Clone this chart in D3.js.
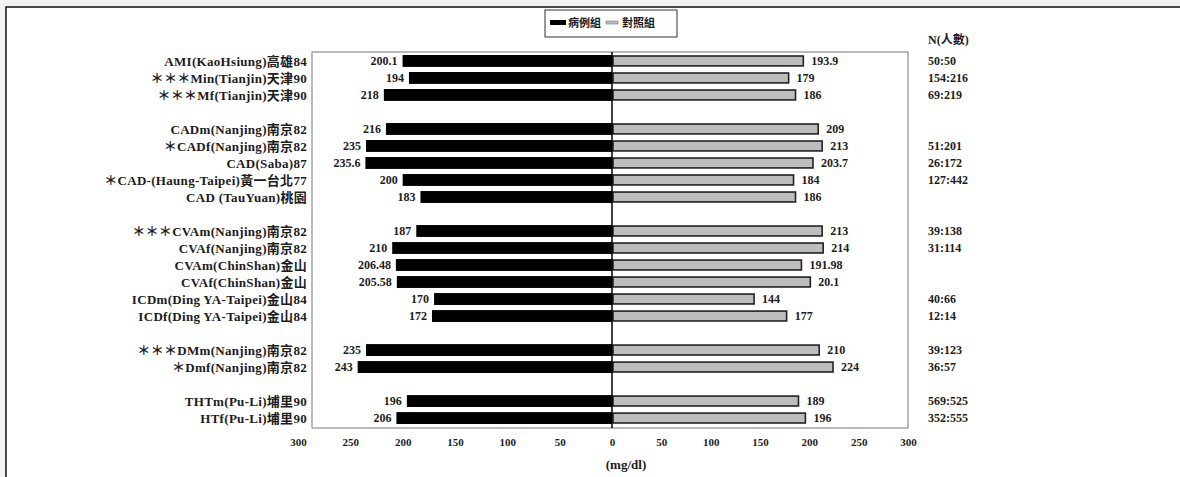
<!DOCTYPE html>
<html>
<head>
<meta charset="utf-8">
<script src="https://cdn.jsdelivr.net/npm/d3@7"></script>
<style>
  body { margin: 0; background: #f3f3f3; }
  text { font-family: "Liberation Serif", "Noto Sans CJK TC", serif; }
</style>
</head>
<body>
<div id="chart"></div>
<script>
const categories = [
  "AMI(KaoHsiung)高雄84",
  "＊＊＊Min(Tianjin)天津90",
  "＊＊＊Mf(Tianjin)天津90",
  "CADm(Nanjing)南京82",
  "＊CADf(Nanjing)南京82",
  "CAD(Saba)87",
  "＊CAD-(Haung-Taipei)黃一台北77",
  "CAD (TauYuan)桃園",
  "＊＊＊CVAm(Nanjing)南京82",
  "CVAf(Nanjing)南京82",
  "CVAm(ChinShan)金山",
  "CVAf(ChinShan)金山",
  "ICDm(Ding YA-Taipei)金山84",
  "ICDf(Ding YA-Taipei)金山84",
  "＊＊＊DMm(Nanjing)南京82",
  "＊Dmf(Nanjing)南京82",
  "THTm(Pu-Li)埔里90",
  "HTf(Pu-Li)埔里90",
];
const caseValues = [200.1, 194, 218, 216, 235, 235.6, 200, 183, 187, 210, 206.48, 205.58, 170, 172, 235, 243, 196, 206];
const controlValues = [193.9, 179, 186, 209, 213, 203.7, 184, 186, 213, 214, 191.98, 201, 144, 177, 210, 224, 189, 196];
const controlText = ["193.9", "179", "186", "209", "213", "203.7", "184", "186", "213", "214", "191.98", "20.1", "144", "177", "210", "224", "189", "196"];
const nText = ["50:50", "154:216", "69:219", "", "51:201", "26:172", "127:442", "", "39:138", "31:114", "", "", "40:66", "12:14", "39:123", "36:57", "569:525", "352:555"];
const groupSizes = [3, 5, 6, 2, 2];
const ticks = [0, 50, 100, 150, 200, 250, 300];

const W = 1180, H = 477;
const ink = "#1c1c1c";
const svg = d3.select("#chart").append("svg").attr("width", W).attr("height", H);

// paper panel
svg.append("rect").attr("x", 6).attr("y", 7).attr("width", W).attr("height", H)
  .attr("fill", "#fff").attr("stroke", "#111").attr("stroke-width", 1.5);

// slot keys with blank spacer rows between groups
const slots = [];
let k = 0;
groupSizes.forEach((n, g) => {
  if (g > 0) slots.push("gap" + g);
  for (let i = 0; i < n; i++) slots.push(categories[k++]);
});

const y = d3.scaleBand().domain(slots).range([55, 424]).paddingInner(0.3).paddingOuter(0);
const xL = d3.scaleLinear().domain([0, 300]).range([612, 298]);
const xR = d3.scaleLinear().domain([0, 300]).range([612, 908]);

const data = categories.map((c, i) => ({ c, a: caseValues[i], b: controlValues[i], bt: controlText[i], n: nText[i] }));

// frame
svg.append("rect").attr("x", 312).attr("y", 52).attr("width", 908 - 312).attr("height", 428 - 52)
  .attr("fill", "none").attr("stroke", "#777").attr("stroke-width", 1);

// case bars (left)
svg.selectAll(".barL").data(data).join("rect").attr("class", "barL")
  .attr("x", d => xL(d.a)).attr("y", d => y(d.c))
  .attr("width", d => xL(0) - xL(d.a)).attr("height", y.bandwidth())
  .attr("fill", "#000");

// control bars (right)
svg.selectAll(".barR").data(data).join("rect").attr("class", "barR")
  .attr("x", xR(0) + 1).attr("y", d => y(d.c) + 1)
  .attr("width", d => xR(d.b) - xR(0) - 1).attr("height", y.bandwidth() - 2)
  .attr("fill", "#bdbdbd").attr("stroke", "#222").attr("stroke-width", 1.6);

// center line
svg.append("line").attr("x1", 612).attr("x2", 612).attr("y1", 52).attr("y2", 428)
  .attr("stroke", "#000").attr("stroke-width", 1.5);

// category labels
svg.selectAll(".lab").data(data).join("text").attr("class", "lab")
  .attr("x", 307).attr("y", d => y(d.c) + y.bandwidth() / 2).attr("dy", "0.35em")
  .attr("text-anchor", "end").attr("font-size", 13).attr("font-weight", "bold")
  .attr("letter-spacing", 0.3).attr("fill", ink)
  .text(d => d.c);

// value labels
svg.selectAll(".valL").data(data).join("text").attr("class", "valL")
  .attr("x", d => xL(d.a) - 5).attr("y", d => y(d.c) + y.bandwidth() / 2).attr("dy", "0.35em")
  .attr("text-anchor", "end").attr("font-size", 12).attr("font-weight", "bold").attr("fill", ink)
  .text(d => d.a);
svg.selectAll(".valR").data(data).join("text").attr("class", "valR")
  .attr("x", d => xR(d.b) + 8).attr("y", d => y(d.c) + y.bandwidth() / 2).attr("dy", "0.35em")
  .attr("text-anchor", "start").attr("font-size", 12).attr("font-weight", "bold").attr("fill", ink)
  .text(d => d.bt);

// N column
svg.append("text").attr("x", 928).attr("y", 44).attr("font-size", 12).attr("font-weight", "bold")
  .attr("fill", ink).text("N(人數)");
svg.selectAll(".nn").data(data).join("text").attr("class", "nn")
  .attr("x", 928).attr("y", d => y(d.c) + y.bandwidth() / 2).attr("dy", "0.35em")
  .attr("font-size", 12).attr("font-weight", "bold").attr("fill", ink).text(d => d.n);

// axes
const axL = svg.append("g").attr("transform", "translate(0,432)")
  .call(d3.axisBottom(xL).tickValues(ticks.slice(1)).tickSize(0).tickPadding(6));
const axR = svg.append("g").attr("transform", "translate(0,432)")
  .call(d3.axisBottom(xR).tickValues(ticks).tickSize(0).tickPadding(6));
[axL, axR].forEach(a => {
  a.select(".domain").remove();
  a.selectAll("text").attr("font-size", 11).attr("font-weight", "bold").attr("fill", ink)
    .style("font-family", "'Liberation Serif', serif");
});

svg.append("text").attr("x", 626).attr("y", 469).attr("text-anchor", "middle")
  .attr("font-size", 13).attr("font-weight", "bold").attr("fill", ink).text("(mg/dl)");

// legend
const lg = svg.append("g");
lg.append("rect").attr("x", 545).attr("y", 10).attr("width", 132).attr("height", 27)
  .attr("fill", "#fff").attr("stroke", "#333").attr("stroke-width", 1);
lg.append("rect").attr("x", 550).attr("y", 20).attr("width", 16).attr("height", 5).attr("fill", "#000");
lg.append("text").attr("x", 568).attr("y", 27).attr("font-size", 11).attr("font-weight", "bold")
  .attr("fill", ink).text("病例組");
lg.append("rect").attr("x", 606).attr("y", 21).attr("width", 12).attr("height", 3)
  .attr("fill", "#bdbdbd").attr("stroke", "#666").attr("stroke-width", 0.5);
lg.append("text").attr("x", 622).attr("y", 27).attr("font-size", 11).attr("font-weight", "bold")
  .attr("fill", ink).text("對照組");
</script>
</body>
</html>
